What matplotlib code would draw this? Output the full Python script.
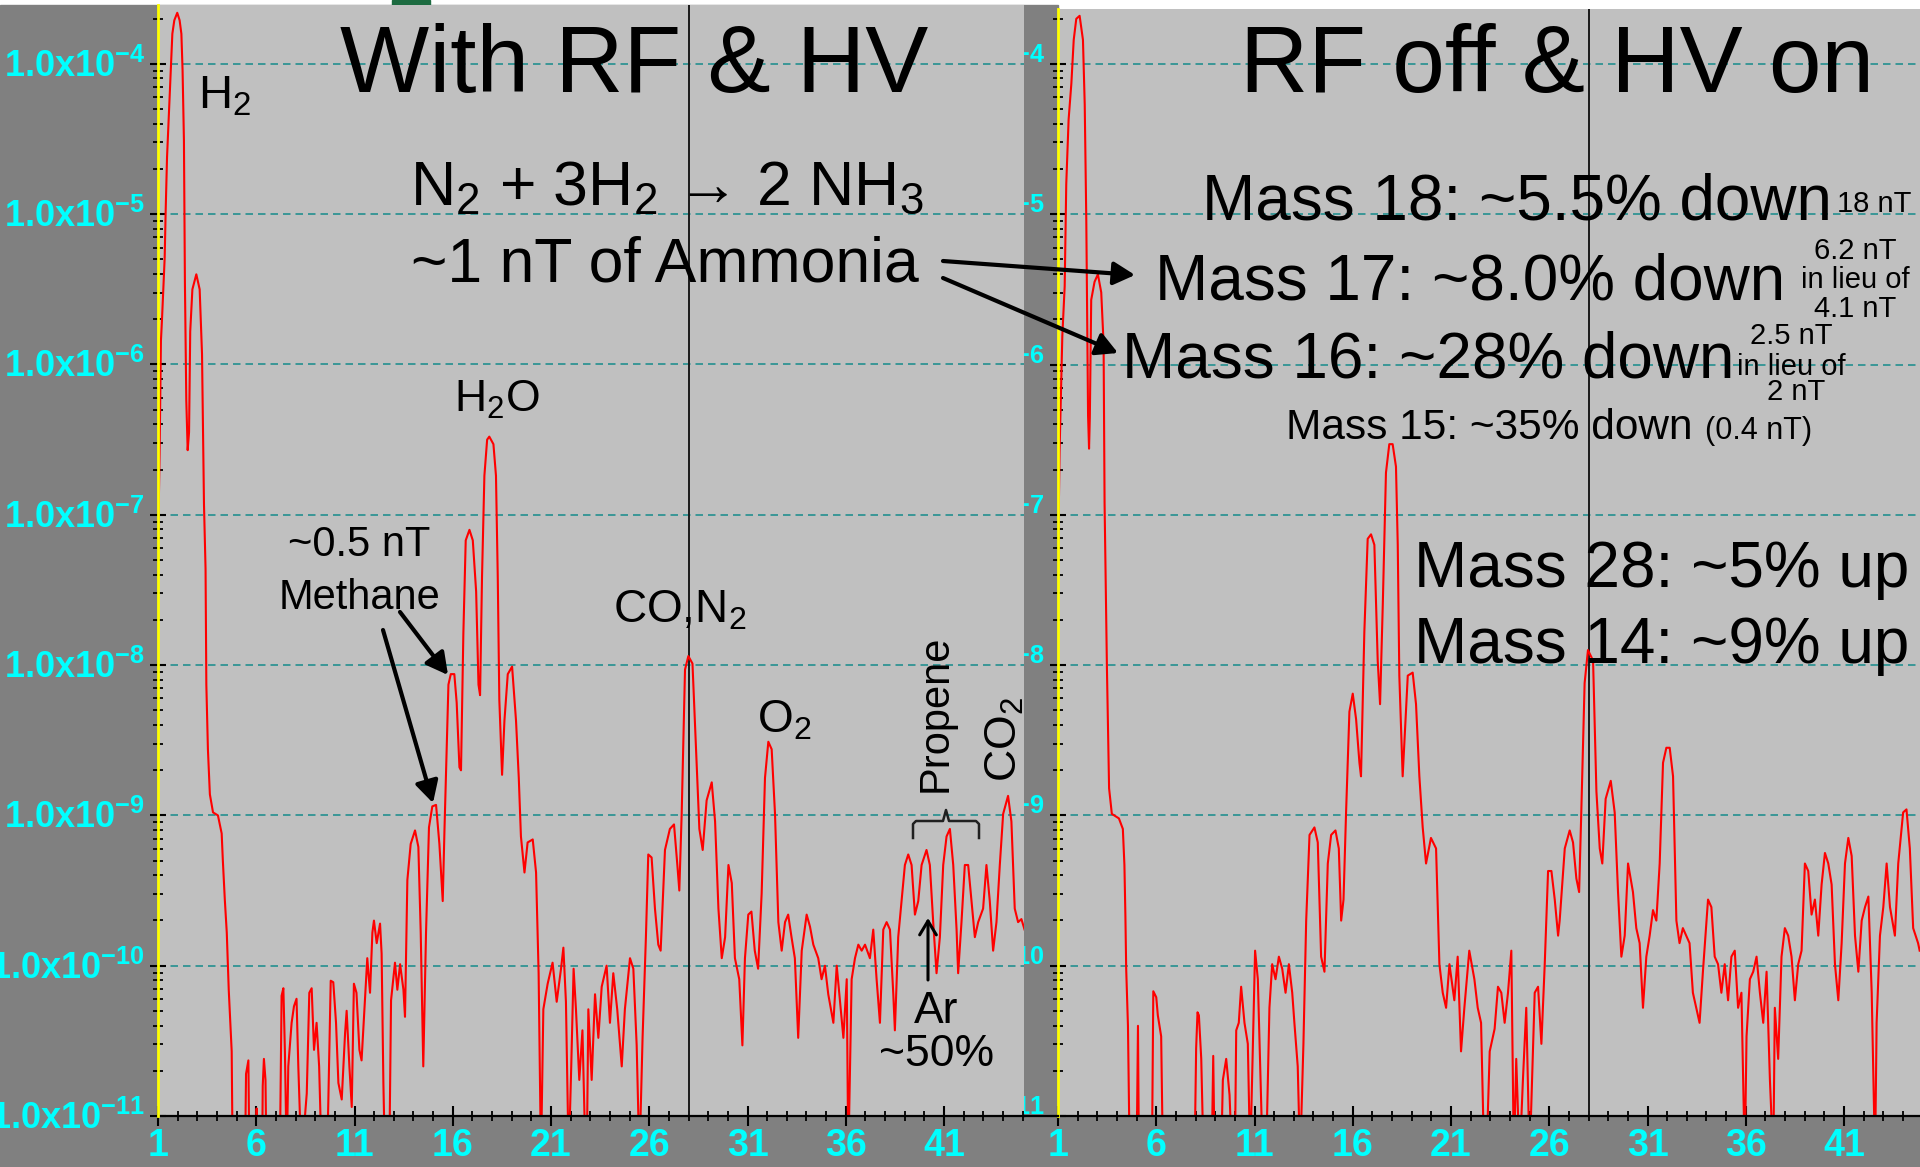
import matplotlib
matplotlib.use('Agg')
import matplotlib.pyplot as plt
import matplotlib.transforms as mtransforms
from matplotlib.patches import Rectangle, FancyArrowPatch
from matplotlib.lines import Line2D
from matplotlib.ticker import FixedLocator, LogLocator, NullFormatter
import numpy as np

plt.rcParams['font.family'] = ['Liberation Sans', 'DejaVu Sans']
plt.rcParams['mathtext.fontset'] = 'custom'
plt.rcParams['mathtext.rm'] = 'Liberation Sans'
plt.rcParams['mathtext.it'] = 'Liberation Sans'
plt.rcParams['mathtext.bf'] = 'Liberation Sans:bold'

W, H = 1920, 1167
FLOOR = -11.3  # below the bottom of the scale

# mass (amu) and log10(pressure, Torr)
left_mass = [1.00, 1.08, 1.15, 1.20, 1.34, 1.39, 1.46, 1.56, 1.65, 1.73, 1.83, 1.98, 2.10, 2.19, 2.25, 2.32,
             2.37, 2.44, 2.51, 2.58, 2.64, 2.75, 2.95, 3.12, 3.24, 3.34, 3.42, 3.46, 3.54, 3.64, 3.80, 4.05,
             4.24, 4.30, 4.40, 4.50, 4.60, 4.75, 4.80, 5.43, 5.48, 5.60, 5.65, 5.98, 6.02, 6.06, 6.30, 6.33,
             6.39, 6.47, 6.52, 7.20, 7.29, 7.38, 7.46, 7.55, 7.63, 7.80, 7.92, 8.05, 8.14, 8.30, 8.57, 8.70,
             8.82, 8.94, 9.07, 9.20, 9.33, 9.60, 9.67, 9.79, 9.92, 10.06, 10.18, 10.35, 10.52, 10.60, 10.74,
             10.86, 10.97, 11.10, 11.25, 11.36, 11.53, 11.65, 11.79, 11.91, 11.99, 12.13, 12.30, 12.38,
             12.47, 12.55, 12.77, 12.86, 13.06, 13.18, 13.32, 13.49, 13.57, 13.69, 13.86, 14.08, 14.25,
             14.37, 14.50, 14.64, 14.79, 14.96, 15.15, 15.32, 15.49, 15.58, 15.66, 15.78, 15.90, 16.08,
             16.20, 16.34, 16.42, 16.54, 16.66, 16.85, 17.02, 17.19, 17.31, 17.39, 17.49, 17.61, 17.75,
             17.86, 18.07, 18.20, 18.29, 18.37, 18.51, 18.63, 18.80, 19.02, 19.22, 19.36, 19.47, 19.65,
             19.81, 20.07, 20.24, 20.37, 20.49, 20.61, 20.83, 21.08, 21.29, 21.51, 21.63, 21.76, 21.90,
             22.03, 22.15, 22.27, 22.44, 22.60, 22.76, 22.82, 22.90, 23.07, 23.24, 23.41, 23.58, 23.83,
             24.00, 24.17, 24.37, 24.60, 24.76, 25.02, 25.19, 25.36, 25.50, 25.66, 25.83, 25.95, 26.12,
             26.29, 26.46, 26.58, 26.80, 27.05, 27.26, 27.43, 27.53, 27.65, 27.82, 27.99, 28.20, 28.38,
             28.55, 28.72, 28.92, 29.18, 29.35, 29.52, 29.69, 29.86, 30.03, 30.20, 30.36, 30.58, 30.74,
             30.87, 31.04, 31.20, 31.37, 31.54, 31.72, 31.89, 32.06, 32.23, 32.40, 32.57, 32.74, 32.91,
             33.07, 33.24, 33.41, 33.58, 33.76, 34.01, 34.18, 34.35, 34.60, 34.77, 34.94, 35.11, 35.37,
             35.54, 35.71, 35.88, 36.05, 36.13, 36.30, 36.47, 36.64, 36.81, 36.98, 37.23, 37.40, 37.57,
             37.74, 37.91, 38.08, 38.25, 38.42, 38.50, 38.67, 38.84, 39.01, 39.18, 39.35, 39.52, 39.69,
             39.86, 40.11, 40.28, 40.45, 40.62, 40.79, 40.96, 41.13, 41.30, 41.47, 41.64, 41.72, 41.89,
             42.06, 42.23, 42.40, 42.57, 42.74, 42.99, 43.16, 43.33, 43.50, 43.67, 43.84, 44.01, 44.26,
             44.43, 44.60, 44.77, 44.94, 45.10]
left_log = [-7.25, -6.60, -5.84, -5.71, -5.29, -4.98, -4.62, -4.31, -4.02, -3.80, -3.71, -3.66, -3.71, -3.80,
            -4.04, -4.51, -5.46, -6.24, -6.57, -6.45, -5.78, -5.50, -5.40, -5.50, -5.93, -6.93, -7.36, -8.13,
            -8.56, -8.86, -8.98, -9.00, -9.12, -9.30, -9.56, -9.78, -10.16, -10.57, FLOOR, FLOOR, -10.72,
            -10.63, FLOOR, FLOOR, -10.95, FLOOR, FLOOR, -10.80, -10.62, -10.76, FLOOR, FLOOR, -10.20, -10.15,
            -10.58, FLOOR, -10.67, -10.38, -10.27, -10.22, -10.67, FLOOR, -10.85, -10.18, -10.15, -10.56,
            -10.38, -10.67, FLOOR, FLOOR, -10.89, -10.10, -10.11, -10.38, -10.78, -10.89, -10.45, -10.30,
            -10.67, -10.94, -10.12, -10.18, -10.56, -10.63, -10.23, -9.95, -10.18, -9.78, -9.70, -9.85,
            -9.72, -9.92, -10.78, FLOOR, FLOOR, -10.23, -9.98, -10.16, -9.99, -10.16, -10.34, -9.43, -9.19,
            -9.10, -9.21, -9.78, -10.67, -9.78, -9.08, -8.94, -8.93, -9.19, -9.57, -9.09, -8.70, -8.13,
            -8.06, -8.06, -8.25, -8.68, -8.70, -7.79, -7.17, -7.10, -7.17, -7.51, -8.13, -8.20, -7.41,
            -6.74, -6.50, -6.48, -6.53, -6.74, -7.41, -8.23, -8.73, -8.37, -8.06, -8.01, -8.37, -8.75,
            -9.14, -9.38, -9.18, -9.16, -9.38, -10.05, FLOOR, -10.29, -10.12, -9.98, -10.24, -10.02, -9.88,
            -10.24, FLOOR, -10.67, -10.02, -10.29, -10.76, -10.43, FLOOR, FLOOR, -10.29, -10.76, -10.19,
            -10.48, -10.14, -10.00, -10.38, -10.05, -10.29, -10.67, -10.29, -9.95, -10.02, -10.53, FLOOR,
            -10.48, -9.81, -9.26, -9.28, -9.62, -9.86, -9.90, -9.23, -9.09, -9.06, -9.33, -9.50, -8.99,
            -8.03, -7.94, -7.99, -8.56, -9.09, -9.23, -8.90, -8.78, -9.04, -9.62, -9.95, -9.81, -9.33,
            -9.45, -9.95, -10.09, -10.53, -9.95, -9.66, -9.64, -9.90, -10.02, -9.52, -8.75, -8.51, -8.56,
            -8.99, -9.71, -9.90, -9.71, -9.66, -9.81, -9.95, -10.48, -9.90, -9.66, -9.74, -9.86, -9.95,
            -10.09, -10.00, -10.19, -10.38, -10.00, -10.24, -10.48, -10.09, FLOOR, -10.09, -9.95, -9.86,
            -9.90, -9.86, -9.95, -9.76, -10.09, -10.38, -9.76, -9.71, -9.76, -10.19, -10.43, -9.81, -9.57,
            -9.33, -9.26, -9.33, -9.66, -9.57, -9.33, -9.23, -9.33, -9.71, -10.05, -9.81, -9.33, -9.14,
            -9.09, -9.33, -9.76, -10.05, -9.71, -9.33, -9.33, -9.57, -9.81, -9.71, -9.62, -9.33, -9.57,
            -9.90, -9.71, -9.33, -8.99, -8.87, -9.04, -9.62, -9.71, -9.69, -9.76]

right_mass = [1.00, 1.08, 1.22, 1.34, 1.42, 1.54, 1.68, 1.80, 1.93, 2.10, 2.27, 2.36, 2.44, 2.53, 2.58, 2.62,
              2.69, 2.86, 3.03, 3.20, 3.32, 3.37, 3.49, 3.56, 3.60, 3.74, 4.10, 4.30, 4.38, 4.43, 4.47, 4.56,
              4.65, 5.00, 5.07, 5.12, 5.78, 5.85, 6.00, 6.08, 6.25, 6.34, 7.95, 8.03, 8.10, 8.17, 8.29, 8.41,
              8.82, 8.90, 8.97, 9.30, 9.39, 9.56, 9.73, 9.86, 10.00, 10.07, 10.20, 10.32, 10.49, 10.66, 10.78,
              10.92, 11.03, 11.17, 11.29, 11.42, 11.59, 11.76, 11.90, 12.07, 12.24, 12.41, 12.58, 12.75,
              12.92, 13.03, 13.20, 13.32, 13.49, 13.63, 13.80, 14.05, 14.22, 14.39, 14.56, 14.73, 14.90,
              15.12, 15.29, 15.41, 15.53, 15.66, 15.83, 16.00, 16.17, 16.34, 16.42, 16.59, 16.76, 16.93,
              17.10, 17.27, 17.39, 17.53, 17.69, 17.86, 18.03, 18.20, 18.29, 18.37, 18.54, 18.80, 19.05,
              19.22, 19.39, 19.56, 19.73, 19.98, 20.24, 20.41, 20.58, 20.75, 20.92, 21.17, 21.34, 21.51,
              21.68, 21.93, 22.19, 22.36, 22.53, 22.69, 22.80, 22.97, 23.22, 23.39, 23.56, 23.73, 23.90,
              24.07, 24.20, 24.32, 24.49, 24.66, 24.83, 25.00, 25.26, 25.43, 25.60, 25.77, 25.94, 26.11,
              26.28, 26.45, 26.53, 26.79, 27.04, 27.21, 27.38, 27.52, 27.63, 27.80, 27.97, 28.23, 28.40,
              28.57, 28.70, 28.87, 29.13, 29.33, 29.50, 29.67, 29.84, 30.01, 30.26, 30.43, 30.60, 30.77,
              30.94, 31.11, 31.28, 31.45, 31.62, 31.79, 31.96, 32.13, 32.30, 32.47, 32.63, 32.80, 32.97,
              33.14, 33.31, 33.48, 33.65, 33.82, 34.08, 34.25, 34.42, 34.59, 34.76, 34.93, 35.10, 35.27,
              35.44, 35.61, 35.78, 35.95, 36.04, 36.21, 36.38, 36.55, 36.72, 36.89, 37.06, 37.23, 37.40,
              37.48, 37.65, 37.82, 37.99, 38.16, 38.33, 38.50, 38.67, 38.84, 39.01, 39.18, 39.35, 39.52,
              39.69, 39.86, 40.03, 40.20, 40.37, 40.54, 40.71, 40.88, 41.05, 41.22, 41.39, 41.56, 41.73,
              41.90, 42.07, 42.24, 42.41, 42.58, 42.66, 42.83, 43.00, 43.17, 43.34, 43.59, 43.76, 44.01,
              44.18, 44.35, 44.52, 44.77, 44.85]
right_log = [-7.35, -6.58, -5.81, -5.48, -4.80, -4.37, -4.13, -3.84, -3.70, -3.68, -3.84, -4.27, -5.04, -6.34,
             -6.56, -6.35, -5.57, -5.45, -5.40, -5.52, -5.86, -6.92, -8.02, -8.51, -8.82, -8.99, -9.02, -9.09,
             -9.33, -9.67, -10.02, -10.40, FLOOR, FLOOR, -10.40, FLOOR, FLOOR, -10.17, -10.21, -10.33,
             -10.47, FLOOR, FLOOR, -10.55, -10.31, -10.33, -10.62, FLOOR, FLOOR, -10.60, FLOOR, FLOOR,
             -10.76, -10.62, -10.86, FLOOR, FLOOR, -10.43, -10.38, -10.14, -10.38, -10.52, FLOOR, -10.52,
             -9.90, -10.09, -10.67, FLOOR, FLOOR, -10.28, -9.99, -10.09, -9.94, -10.02, -10.18, -9.99,
             -10.18, -10.38, -10.67, FLOOR, -10.52, -9.70, -9.13, -9.08, -9.18, -9.94, -10.04, -9.32, -9.13,
             -9.10, -9.22, -9.70, -9.56, -8.98, -8.31, -8.19, -8.36, -8.65, -8.74, -7.78, -7.16, -7.13,
             -7.20, -7.97, -8.26, -7.59, -6.72, -6.53, -6.53, -6.68, -7.20, -8.07, -8.74, -8.07, -8.05,
             -8.26, -8.74, -9.08, -9.32, -9.15, -9.22, -9.99, -10.18, -10.28, -9.99, -10.23, -9.94, -10.57,
             -10.28, -9.90, -10.09, -10.28, -10.38, FLOOR, FLOOR, -10.57, -10.42, -10.14, -10.18, -10.38,
             -10.18, -9.90, FLOOR, -10.62, FLOOR, -10.76, -10.28, FLOOR, -10.18, -10.14, -10.52, -9.99,
             -9.37, -9.37, -9.56, -9.80, -9.70, -9.22, -9.10, -9.18, -9.42, -9.51, -8.98, -8.12, -7.90,
             -7.97, -8.84, -9.22, -9.32, -8.89, -8.77, -8.98, -9.51, -9.94, -9.80, -9.32, -9.51, -9.75,
             -9.85, -10.28, -9.94, -9.80, -9.63, -9.70, -9.32, -8.65, -8.55, -8.55, -8.74, -9.70, -9.85,
             -9.75, -9.80, -9.85, -10.18, -10.28, -10.38, -10.04, -9.56, -9.61, -9.94, -9.99, -10.18, -9.99,
             -10.23, -9.94, -9.90, -10.28, -10.18, FLOOR, -10.47, -10.09, -10.04, -9.94, -10.18, -10.38,
             -10.04, -10.76, FLOOR, -10.28, -10.62, -9.94, -9.75, -9.80, -9.94, -10.23, -9.99, -9.90, -9.32,
             -9.37, -9.66, -9.56, -9.80, -9.46, -9.25, -9.32, -9.46, -9.99, -10.23, -9.85, -9.32, -9.15,
             -9.27, -9.80, -10.04, -9.70, -9.61, -9.54, -10.18, FLOOR, -10.38, -9.80, -9.61, -9.32, -9.61,
             -9.80, -9.32, -8.98, -8.96, -9.22, -9.75, -9.85, -9.90]

mass_ticks = [1, 6, 11, 16, 21, 26, 31, 36, 41]
decades = [-11, -10, -9, -8, -7, -6, -5, -4]
cursor_mass = 28

CYAN = '#00ffff'
DARK = '#808080'


def fx(x):
    return x / W


def fy(y):
    return 1 - y / H


def box(x0, y0, x1, y1):
    return [x0 / W, 1 - y1 / H, (x1 - x0) / W, (y1 - y0) / H]


fig = plt.figure(figsize=(19.2, 11.67), dpi=100, facecolor='white')

# dark frames behind the two scan windows
fig.add_artist(Rectangle((0, 0), fx(1058), fy(5), transform=fig.transFigure,
                         color=DARK, zorder=0))
fig.add_artist(Rectangle((fx(1058), 0), 1 - fx(1058), fy(1116), transform=fig.transFigure,
                         color=DARK, zorder=0))
fig.add_artist(Rectangle((fx(392), fy(6)), fx(38), 6 / H, transform=fig.transFigure,
                         color='#1d6b41', zorder=0))


def scan(ax, mass, logp, xmax, ytop):
    ax.set_facecolor('#c0c0c0')
    ax.set_yscale('log')
    ax.set_xlim(1, xmax)
    ax.set_ylim(1e-11, 10 ** ytop)
    for s in ['top', 'right']:
        ax.spines[s].set_visible(False)
    ax.spines['left'].set_color('#ffff00')
    ax.spines['left'].set_linewidth(2)
    ax.spines['bottom'].set_color('black')
    ax.spines['bottom'].set_linewidth(1.6)
    ax.spines['left'].set_zorder(3)

    ax.set_xticks(mass_ticks, labels=[str(m) for m in mass_ticks], fontweight='bold')
    ax.xaxis.set_minor_locator(FixedLocator(range(1, 47)))
    ax.tick_params(axis='x', which='major', direction='inout', length=14, width=1.5,
                   color='black', labelcolor=CYAN, labelsize=27, pad=2)
    ax.tick_params(axis='x', which='minor', direction='inout', length=7, width=1.3, color='black')

    ax.set_yticks([10.0 ** d for d in decades])
    ax.set_yticklabels([])
    ax.yaxis.set_minor_locator(LogLocator(base=10, subs=range(2, 10), numticks=30))
    ax.yaxis.set_minor_formatter(NullFormatter())
    ax.tick_params(axis='y', which='major', direction='inout', length=12, width=1.5, color='black')
    ax.tick_params(axis='y', which='minor', direction='inout', length=6.5, width=1.3, color='black')

    ax.grid(axis='y', which='major', color='#238f8f', linestyle=(0, (4.5, 3)), lw=1.2)
    ax.axvline(cursor_mass, color='#1a1a1a', lw=1.4, zorder=2)
    ax.plot(mass, 10.0 ** np.array(logp), color='#ff0000', lw=1.5, zorder=2.5)

    # decade labels, written as 1.0x10^n
    trans = mtransforms.offset_copy(ax.get_yaxis_transform(), fig=fig, x=-13, y=-13, units='dots')
    texts = []
    for d in decades:
        t = ax.text(0, 10.0 ** d, '1.0x10$^{\\mathbf{%d}}$' % d, transform=trans, ha='right',
                    va='baseline', color=CYAN, fontsize=26, fontweight='bold', clip_on=False)
        texts.append(t)
    return texts


axL = fig.add_axes(box(158, 5, 1024, 1116))
scan(axL, left_mass, left_log, 1 + 866 / 19.65, -11 + 1111 / 150.3)

axR = fig.add_axes(box(1058, 9, 1920, 1116))
labelsR = scan(axR, right_mass, right_log, 1 + 862 / 19.65, -11 + 1107 / 150.3)
strip = mtransforms.TransformedBbox(mtransforms.Bbox([[fx(1024), 0], [fx(1058), 1]]), fig.transFigure)
for t in labelsR:
    t.set_clip_box(strip)
    t.set_clip_on(True)
fig.add_artist(Line2D([fx(1024), fx(1058)], [fy(1116), fy(1116)], transform=fig.transFigure,
                      color='black', lw=1.6))


def note(x, y, s, size, **kw):
    fig.text(fx(x), fy(y), s, fontsize=size, color='black', **kw)


def arrow(x0, y0, x1, y1, style, lw):
    fig.add_artist(FancyArrowPatch((fx(x0), fy(y0)), (fx(x1), fy(y1)), transform=fig.transFigure,
                                   arrowstyle=style, mutation_scale=20, lw=lw, color='black',
                                   shrinkA=0, shrinkB=0, zorder=5))


# left scan
note(634, 92, 'With RF & HV', 68, ha='center', va='baseline')
note(198, 108, 'H$_2$', 34, va='baseline')
note(667, 205, 'N$_2$ + 3H$_2$ \u2192 2 NH$_3$', 45, ha='center', va='baseline')
note(665, 281, '~1 nT of Ammonia', 45, ha='center', va='baseline')
note(454, 412, 'H$_2$O', 32, va='baseline')
note(359, 556, '~0.5 nT', 30, ha='center', va='baseline')
note(359, 609, 'Methane', 30, ha='center', va='baseline')
note(613, 623, 'CO,N$_2$', 33, va='baseline')
note(757, 733, 'O$_2$', 33, va='baseline')
note(936, 713, 'Propene', 30, ha='center', va='center', rotation=90)
note(1005, 740, 'CO$_2$', 32, ha='center', va='center', rotation=90)
note(936, 1023, 'Ar', 32, ha='center', va='baseline')
note(937, 1066, '~50%', 32, ha='center', va='baseline')

arrow(383, 630, 433, 803, '-|>,head_length=0.65,head_width=0.35', 3)
arrow(400, 612, 448, 675, '-|>,head_length=0.65,head_width=0.35', 3)
arrow(943, 261, 1135, 275, '-|>,head_length=0.65,head_width=0.35', 3)
arrow(943, 278, 1118, 353, '-|>,head_length=0.65,head_width=0.35', 3)
arrow(928, 980, 928, 918, '->,head_length=0.5,head_width=0.3', 2.2)

brace_x = [913, 913, 916, 943, 946, 949, 976, 979, 979]
brace_y = [838, 824, 821, 821, 810, 821, 821, 824, 838]
fig.add_artist(Line2D([fx(v) for v in brace_x], [fy(v) for v in brace_y], transform=fig.transFigure,
                      color='#202020', lw=1.8))

# right scan
note(1557, 92, 'RF off & HV on', 68, ha='center', va='baseline')
note(1202, 220, 'Mass 18: ~5.5% down', 46, va='baseline')
note(1837, 212, '18 nT', 21, va='baseline')
note(1155, 299, 'Mass 17: ~8.0% down', 46, va='baseline')
note(1855, 259, '6.2 nT', 21, ha='center', va='baseline')
note(1855, 288, 'in lieu of', 21, ha='center', va='baseline')
note(1855, 317, '4.1 nT', 21, ha='center', va='baseline')
note(1122, 378, 'Mass 16: ~28% down', 46, va='baseline')
note(1791, 344, '2.5 nT', 21, ha='center', va='baseline')
note(1791, 375, 'in lieu of', 21, ha='center', va='baseline')
note(1796, 400, '2 nT', 21, ha='center', va='baseline')
note(1286, 439, 'Mass 15: ~35% down', 30.5, va='baseline')
note(1705, 439, '(0.4 nT)', 22, va='baseline')
note(1414, 587, 'Mass 28: ~5% up', 46, va='baseline')
note(1414, 663, 'Mass 14: ~9% up', 46, va='baseline')

fig.savefig('out.png', dpi=100, facecolor='white')
